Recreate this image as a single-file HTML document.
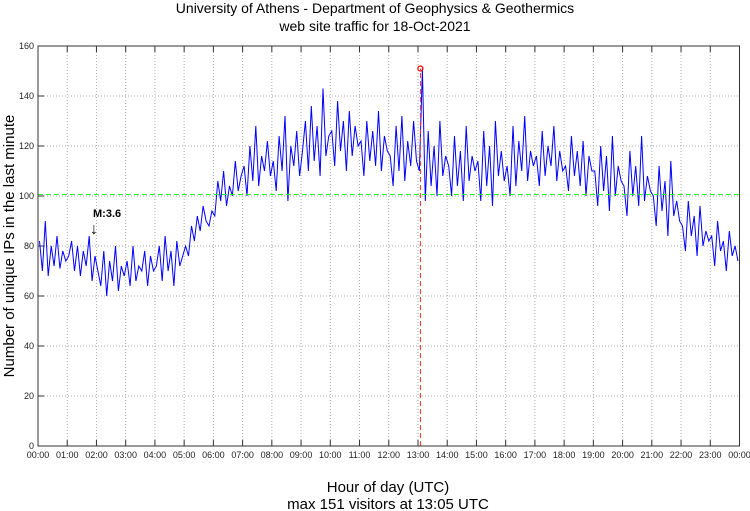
<!DOCTYPE html>
<html><head><meta charset="utf-8"><style>
body{margin:0;background:#fff}
svg{display:block;font-family:"Liberation Sans",sans-serif}
</style></head><body>
<svg id="c" width="750" height="511"></svg>
<script>
const hourLabels=["00:00","01:00","02:00","03:00","04:00","05:00","06:00","07:00","08:00","09:00","10:00","11:00","12:00","13:00","14:00","15:00","16:00","17:00","18:00","19:00","20:00","21:00","22:00","23:00","00:00"];
const yTicks=[0,20,40,60,80,100,120,140,160];
// visitors per minute sampled every 6 minutes (10 per hour)
const visitors=[
82,70,90,68,80,72,84,71,78,74,
76,82,70,80,68,78,72,84,66,76,
70,64,78,60,74,66,80,62,72,68,
74,64,80,66,72,70,78,64,76,70,
72,80,66,84,70,78,64,82,72,76,
80,76,88,82,92,86,96,90,88,94,
92,106,98,110,96,104,100,114,102,108,
112,100,120,106,128,104,116,110,122,108,
114,102,124,110,132,98,120,112,126,108,
118,130,110,136,114,128,108,143,116,124,
126,112,138,118,130,110,134,116,128,120,
122,108,130,114,126,112,134,110,124,118,
116,104,128,110,132,106,122,112,130,114,
110,151,98,126,104,120,100,130,108,116,
112,100,124,104,118,98,128,106,116,110,
114,98,126,104,120,96,130,108,118,106,
112,100,128,104,122,110,132,106,118,112,
116,104,126,108,120,112,128,106,118,110,
112,102,124,108,118,104,122,100,116,110,
110,96,120,102,116,94,124,100,112,106,
104,92,118,100,112,96,124,98,108,102,
100,88,112,94,106,84,114,92,98,90,
88,78,98,84,92,76,96,80,86,82,
84,72,90,78,82,70,86,76,80,74];
const maxVal=151, maxMinute=785, meanVal=101;

const NS="http://www.w3.org/2000/svg";
const svg=document.getElementById('c');
const X0=38,X1=739.5,Y0=446,Y1=46;
const xs=m=>X0+(X1-X0)*m/1440;
const ys=v=>Y0-(Y0-Y1)*v/160;
function el(t,a,p){const e=document.createElementNS(NS,t);for(const k in a)e.setAttribute(k,a[k]);(p||svg).appendChild(e);return e;}

hourLabels.forEach((h,i)=>{
 const x=xs(i*60);
 if(i>0&&i<24){
  const g=el('line',{x1:x,x2:x,y1:Y1,y2:Y0,stroke:'#aaa','stroke-dasharray':'1,2'});
  
  
 }
 el('line',{x1:x,x2:x,y1:Y0,y2:Y0-6,stroke:'#333'});
 el('line',{x1:x,x2:x,y1:Y1,y2:Y1+6,stroke:'#333'});
 const t=el('text',{x:x,y:Y0+12,'font-size':'9','text-anchor':'middle',fill:'#222'});
 t.textContent=h;
 
 
});
yTicks.forEach(v=>{
 const y=ys(v);
 if(v>0){
  const g=el('line',{x1:X0,x2:X1,y1:y,y2:y,stroke:'#aaa','stroke-dasharray':'1,2'});
  
  
 }
 el('line',{x1:X0,x2:X0+6,y1:y,y2:y,stroke:'#333'});
 const t=el('text',{x:X0-4,y:y+3,'font-size':'9','text-anchor':'end',fill:'#222'});
 t.textContent=v;
 
 
});

let d='';
visitors.forEach((v,i)=>{d+=(i?'L':'M')+xs(i*6+3).toFixed(1)+','+ys(v).toFixed(1);});
const ln=el('path',{d:d,fill:'none',stroke:'#0000ff','stroke-width':'1'});



const my=Math.round(ys(meanVal))+0.5;
const mean=el('line',{x1:X0,x2:X1,y1:my,y2:my,stroke:'#22ff22','stroke-width':'1','stroke-dasharray':'5,3'});



const mx=el('line',{x1:xs(maxMinute),x2:xs(maxMinute),y1:Y0,y2:ys(maxVal),stroke:'#ff3333','stroke-dasharray':'5,3'});


const mc=el('circle',{cx:xs(maxMinute),cy:ys(maxVal),r:2.5,fill:'none',stroke:'#ff0000','stroke-width':'1.2'});



const box=el('rect',{x:X0,y:Y1,width:X1-X0,height:Y0-Y1,fill:'none',stroke:'#333'});


</script>
<script>
(function(){
const s=document.getElementById('c');
s.insertAdjacentHTML('beforeend',
'<text x="93" y="217" font-size="11" font-weight="bold">M:3.6</text>'+
'<text x="94" y="234" font-size="16" text-anchor="middle">↓</text>'+
'<text x="375" y="13" font-size="14" text-anchor="middle">University of Athens - Department of Geophysics &amp; Geothermics</text>'+
'<text x="375" y="31" font-size="14" text-anchor="middle">web site traffic for 18-Oct-2021</text>'+
'<text transform="translate(14,246) rotate(-90)" font-size="15" text-anchor="middle">Number of unique IPs in the last minute</text>'+
'<text x="388" y="492" font-size="15" text-anchor="middle">Hour of day (UTC)</text>'+
'<text x="388" y="509" font-size="15" text-anchor="middle">max 151 visitors at 13:05 UTC</text>');
})();
</script>
</body></html>
